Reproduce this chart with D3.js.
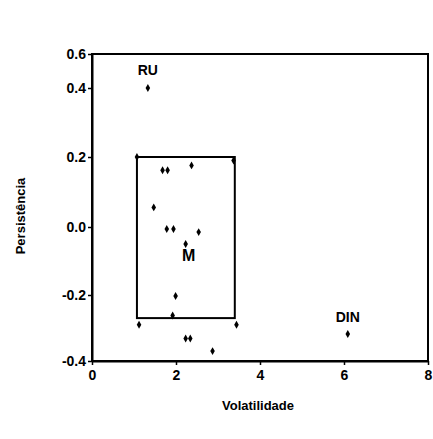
<!DOCTYPE html>
<html>
<head>
<meta charset="utf-8">
<script src="https://cdn.jsdelivr.net/npm/d3@7"></script>
<style>
  body { margin: 0; background: #fff; }
  svg text { font-family: "Liberation Sans", Arial, sans-serif; font-weight: bold; fill: #000; }
</style>
</head>
<body>
<svg width="433" height="439"></svg>
<script>
// data
const volatilidade = [1.33, 1.68, 1.80, 2.37, 1.47, 1.78, 1.94, 2.54, 2.23, 1.99, 1.92, 3.44, 1.12, 2.23, 2.34, 2.87, 6.09, 1.07, 3.37];
const persistencia = [0.40, 0.162, 0.162, 0.176, 0.056, -0.006, -0.006, -0.015, -0.05, -0.203, -0.262, -0.29, -0.29, -0.332, -0.332, -0.37, -0.318, 0.2, 0.19];
const pointLabels = [
  { text: "RU", x: 1.33, y: 0.40, dy: -13 },
  { text: "DIN", x: 6.09, y: -0.318, dy: -12 }
];
// cluster box "M"
const boxX = [1.07, 3.4];
const boxY = [-0.27, 0.2];
const xTicks = [0, 2, 4, 6, 8];
const yTicks = [-0.4, -0.2, 0.0, 0.2, 0.4, 0.6];

const svg = d3.select("svg");

const x = d3.scaleLinear().domain([0, 8]).range([92, 428]);
// scan is uneven at the top, so the y scale is piecewise
const y = d3.scaleLinear()
    .domain([-0.4, -0.2, 0, 0.2, 0.4, 0.6])
    .range([361, 295, 227, 157, 88, 54]);

// frame
svg.append("rect")
    .attr("x", x(0)).attr("y", y(0.6))
    .attr("width", x(8) - x(0)).attr("height", y(-0.4) - y(0.6))
    .attr("fill", "none").attr("stroke", "#000").attr("stroke-width", 2);

// axes
const xAxis = svg.append("g")
    .attr("transform", `translate(0,${y(-0.4)})`)
    .call(d3.axisBottom(x).tickValues(xTicks).tickSize(4).tickSizeOuter(0).tickFormat(d3.format("d")));
const yAxis = svg.append("g")
    .attr("transform", `translate(${x(0)},0)`)
    .call(d3.axisLeft(y).tickValues(yTicks).tickSize(4).tickSizeOuter(0).tickFormat(d3.format(".1f")));

[xAxis, yAxis].forEach(a => {
    a.select(".domain").attr("stroke-width", 2);
    a.selectAll(".tick line").attr("stroke-width", 1.5);
    a.selectAll(".tick text")
        .style("font-size", "14px")
        .style("font-family", "Liberation Sans, Arial, sans-serif")
        .style("font-weight", "bold");
});
xAxis.selectAll(".tick text").attr("dy", "0.85em");
yAxis.selectAll(".tick text").attr("x", -6).text(d => d === 0 ? "0.0" : d.toFixed(1));

// cluster box
svg.append("rect")
    .attr("x", x(boxX[0])).attr("y", y(boxY[1]))
    .attr("width", x(boxX[1]) - x(boxX[0]))
    .attr("height", y(boxY[0]) - y(boxY[1]))
    .attr("fill", "none").attr("stroke", "#000").attr("stroke-width", 2);

svg.append("text")
    .attr("x", x(2.3)).attr("y", y(-0.1))
    .attr("text-anchor", "middle")
    .style("font-size", "16px")
    .text("M");

// points
const sym = d3.symbol().type(d3.symbolDiamond).size(18);
svg.selectAll(".pt")
    .data(volatilidade)
    .enter().append("path")
    .attr("class", "pt")
    .attr("d", sym)
    .attr("transform", (d, i) => `translate(${x(d)},${y(persistencia[i])})`)
    .attr("fill", "#000");

svg.selectAll(".lbl")
    .data(pointLabels)
    .enter().append("text")
    .attr("class", "lbl")
    .attr("x", d => x(d.x))
    .attr("y", d => y(d.y) + d.dy)
    .attr("text-anchor", "middle")
    .style("font-size", "14px")
    .text(d => d.text);

// axis titles
svg.append("text")
    .attr("x", 258).attr("y", 410)
    .attr("text-anchor", "middle")
    .style("font-size", "13px")
    .text("Volatilidade");

svg.append("text")
    .attr("transform", "translate(25,216) rotate(-90)")
    .attr("text-anchor", "middle")
    .style("font-size", "13px")
    .text("Persistência");
</script>
</body>
</html>
